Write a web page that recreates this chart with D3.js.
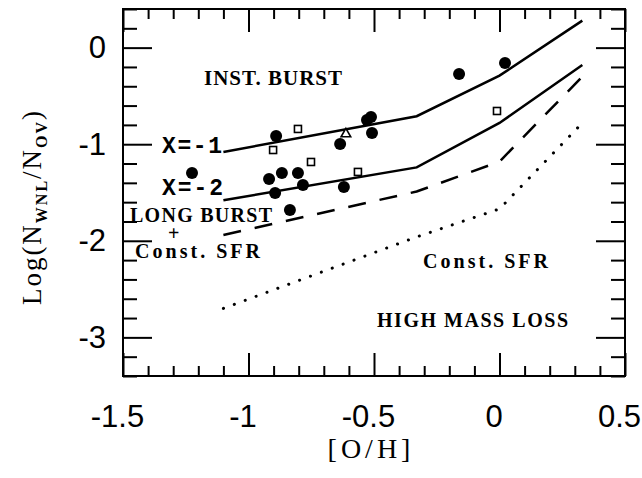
<!DOCTYPE html>
<html lang="en">
<head>
  <meta charset="UTF-8">
  <title>Log(N_WNL/N_OV) vs [O/H]</title>
  <script src="https://d3js.org/d3.v7.min.js"></script>
  <style>
    body { margin: 0; background: #fff; }
    svg { display: block; }
    .tick text { font-family: "Liberation Sans", Arial, sans-serif; font-size: 31px; fill: #000; }
    .tick line { stroke: #000; stroke-width: 2; }
    .note { font-family: "Liberation Serif", "Times New Roman", serif; font-weight: bold; fill: #000; }
    .mono { font-family: "Liberation Mono", "Courier New", monospace; font-weight: bold; fill: #000; }
    .title { font-family: "Liberation Serif", "Times New Roman", serif; fill: #000; }
  </style>
</head>
<body>
  <svg id="chart" width="642" height="478"></svg>

  <script>
    // Akseverdier
    const xMajor = [-1.5, -1, -0.5, 0, 0.5];
    const yMajor = [0, -1, -2, -3];

    // Modellkurver (samme x-verdier for alle)
    const modelX = [-1.1, -0.33, 0, 0.33];
    const burstX1 = [-1.08, -0.71, -0.29, 0.28];   // X=-1
    const burstX2 = [-1.58, -1.24, -0.78, -0.18];  // X=-2
    const longBurst = [-1.94, -1.49, -1.18, -0.30];
    const constSFR = [-2.70, -1.96, -1.67, -0.78];

    // Observasjoner
    const filledX = [-0.89, -0.528, -0.512, -0.508, -0.635, -1.225, -0.918, -0.867, -0.803, -0.783, -0.894, -0.62, -0.835, -0.161, 0.022];
    const filledY = [-0.915, -0.749, -0.718, -0.884, -0.998, -1.298, -1.36, -1.298, -1.298, -1.422, -1.505, -1.443, -1.68, -0.273, -0.159];
    const squareX = [-0.902, -0.803, -0.751, -0.564, -0.01];
    const squareY = [-1.06, -0.842, -1.184, -1.287, -0.656];
    const triangleX = [-0.612];
    const triangleY = [-0.894];

    const svg = d3.select('#chart');
    const pLeft = 123, pRight = 625, pTop = 9, pBottom = 376;

    const x = d3.scaleLinear().domain([-1.5, 0.5]).range([pLeft, pRight]);
    const y = d3.scaleLinear().domain([-3.4, 0.4]).range([pBottom, pTop]);

    const xMinor = d3.range(-1.5, 0.5001, 0.1).map(v => +v.toFixed(2)).filter(v => !xMajor.includes(v));
    const yMinor = d3.range(-3.4, 0.4001, 0.2).map(v => +v.toFixed(2)).filter(v => !yMajor.includes(v));

    // Ticks pekende innover
    function addAxis(axis, transform) {
      const g = svg.append('g').attr('transform', transform).call(axis);
      g.select('.domain').remove();
      return g;
    }
    const plain = d => String(d);   // vanlig bindestrek, ikke unicode-minus

    const xAxisG = addAxis(d3.axisBottom(x).tickValues(xMajor).tickSize(-23).tickPadding(29).tickFormat(plain), `translate(0,${pBottom})`);
    xAxisG.selectAll('text').attr('dx', -6);
    addAxis(d3.axisBottom(x).tickValues(xMinor).tickSize(-10).tickFormat(''), `translate(0,${pBottom})`);
    addAxis(d3.axisTop(x).tickValues(xMajor).tickSize(-23).tickFormat(''), `translate(0,${pTop})`);
    addAxis(d3.axisTop(x).tickValues(xMinor).tickSize(-10).tickFormat(''), `translate(0,${pTop})`);

    addAxis(d3.axisLeft(y).tickValues(yMajor).tickSize(-29).tickPadding(17).tickFormat(plain), `translate(${pLeft},0)`);
    addAxis(d3.axisLeft(y).tickValues(yMinor).tickSize(-14).tickFormat(''), `translate(${pLeft},0)`);
    addAxis(d3.axisRight(y).tickValues(yMajor).tickSize(-29).tickFormat(''), `translate(${pRight},0)`);
    addAxis(d3.axisRight(y).tickValues(yMinor).tickSize(-14).tickFormat(''), `translate(${pRight},0)`);

    // Ramme
    svg.append('rect')
      .attr('x', pLeft).attr('y', pTop)
      .attr('width', pRight - pLeft).attr('height', pBottom - pTop)
      .attr('fill', 'none').attr('stroke', '#000').attr('stroke-width', 2);

    // Kurver
    const line = d3.line().x(d => x(d[0])).y(d => y(d[1]));
    const curves = [
      { values: burstX1, dash: null, cap: 'butt' },
      { values: burstX2, dash: null, cap: 'butt' },
      { values: longBurst, dash: '18,14', cap: 'butt' },
      { values: constSFR, dash: '0.1,11.5', cap: 'round' }
    ];
    curves.forEach(c => {
      svg.append('path')
        .attr('d', line(modelX.map((v, i) => [v, c.values[i]])))
        .attr('fill', 'none')
        .attr('stroke', '#000')
        .attr('stroke-width', c.cap === 'round' ? 3 : 2.5)
        .attr('stroke-linecap', c.cap)
        .attr('stroke-dasharray', c.dash);
    });

    // Punkter
    svg.append('g').selectAll('circle')
      .data(filledX.map((v, i) => [v, filledY[i]]))
      .join('circle')
      .attr('cx', d => x(d[0])).attr('cy', d => y(d[1]))
      .attr('r', 6).attr('fill', '#000');

    svg.append('g').selectAll('rect')
      .data(squareX.map((v, i) => [v, squareY[i]]))
      .join('rect')
      .attr('x', d => x(d[0]) - 3.5).attr('y', d => y(d[1]) - 3.5)
      .attr('width', 7).attr('height', 7)
      .attr('fill', '#fff').attr('stroke', '#000').attr('stroke-width', 1.6);

    svg.append('g').selectAll('path')
      .data(triangleX.map((v, i) => [v, triangleY[i]]))
      .join('path')
      .attr('transform', d => `translate(${x(d[0])},${y(d[1])})`)
      .attr('d', d3.symbol(d3.symbolTriangle, 40))
      .attr('fill', '#fff').attr('stroke', '#000').attr('stroke-width', 1.6);

    // Tekster i plottet
    function note(text, px, py, size, len, cls = 'note') {
      svg.append('text')
        .attr('class', cls)
        .attr('x', px).attr('y', py)
        .attr('font-size', size)
        .attr('textLength', len)
        .attr('lengthAdjust', 'spacing')
        .text(text);
    }
    note('INST. BURST', 204, 85, 21, 138);
    note('X=-1', 162, 153, 23, 60, 'mono');
    note('X=-2', 162, 195, 23, 61, 'mono');
    note('LONG BURST', 130, 222, 20, 142);
    note('+', 168, 240, 20, 12);
    note('Const. SFR', 135, 258, 20, 125);
    note('Const. SFR', 423, 268, 20, 125);
    note('HIGH MASS LOSS', 377, 327, 20, 191);

    // Aksetitler
    svg.append('text')
      .attr('class', 'title')
      .attr('x', (pLeft + pRight) / 2 - 3).attr('y', 458)
      .attr('text-anchor', 'middle')
      .attr('font-size', 28)
      .attr('letter-spacing', 4)
      .text('[O/H]');

    const yt = svg.append('text')
      .attr('class', 'title')
      .attr('transform', 'translate(41,207) rotate(-90)')
      .attr('text-anchor', 'middle')
      .attr('font-size', 27)
      .attr('letter-spacing', 2);
    yt.append('tspan').text('Log(N');
    yt.append('tspan').attr('font-size', 16).attr('font-weight', 'bold').attr('dy', 6).text('WNL');
    yt.append('tspan').attr('dy', -6).text('/N');
    yt.append('tspan').attr('font-size', 16).attr('font-weight', 'bold').attr('dy', 6).text('OV');
    yt.append('tspan').attr('dy', -6).text(')');
  </script>
</body>
</html>
